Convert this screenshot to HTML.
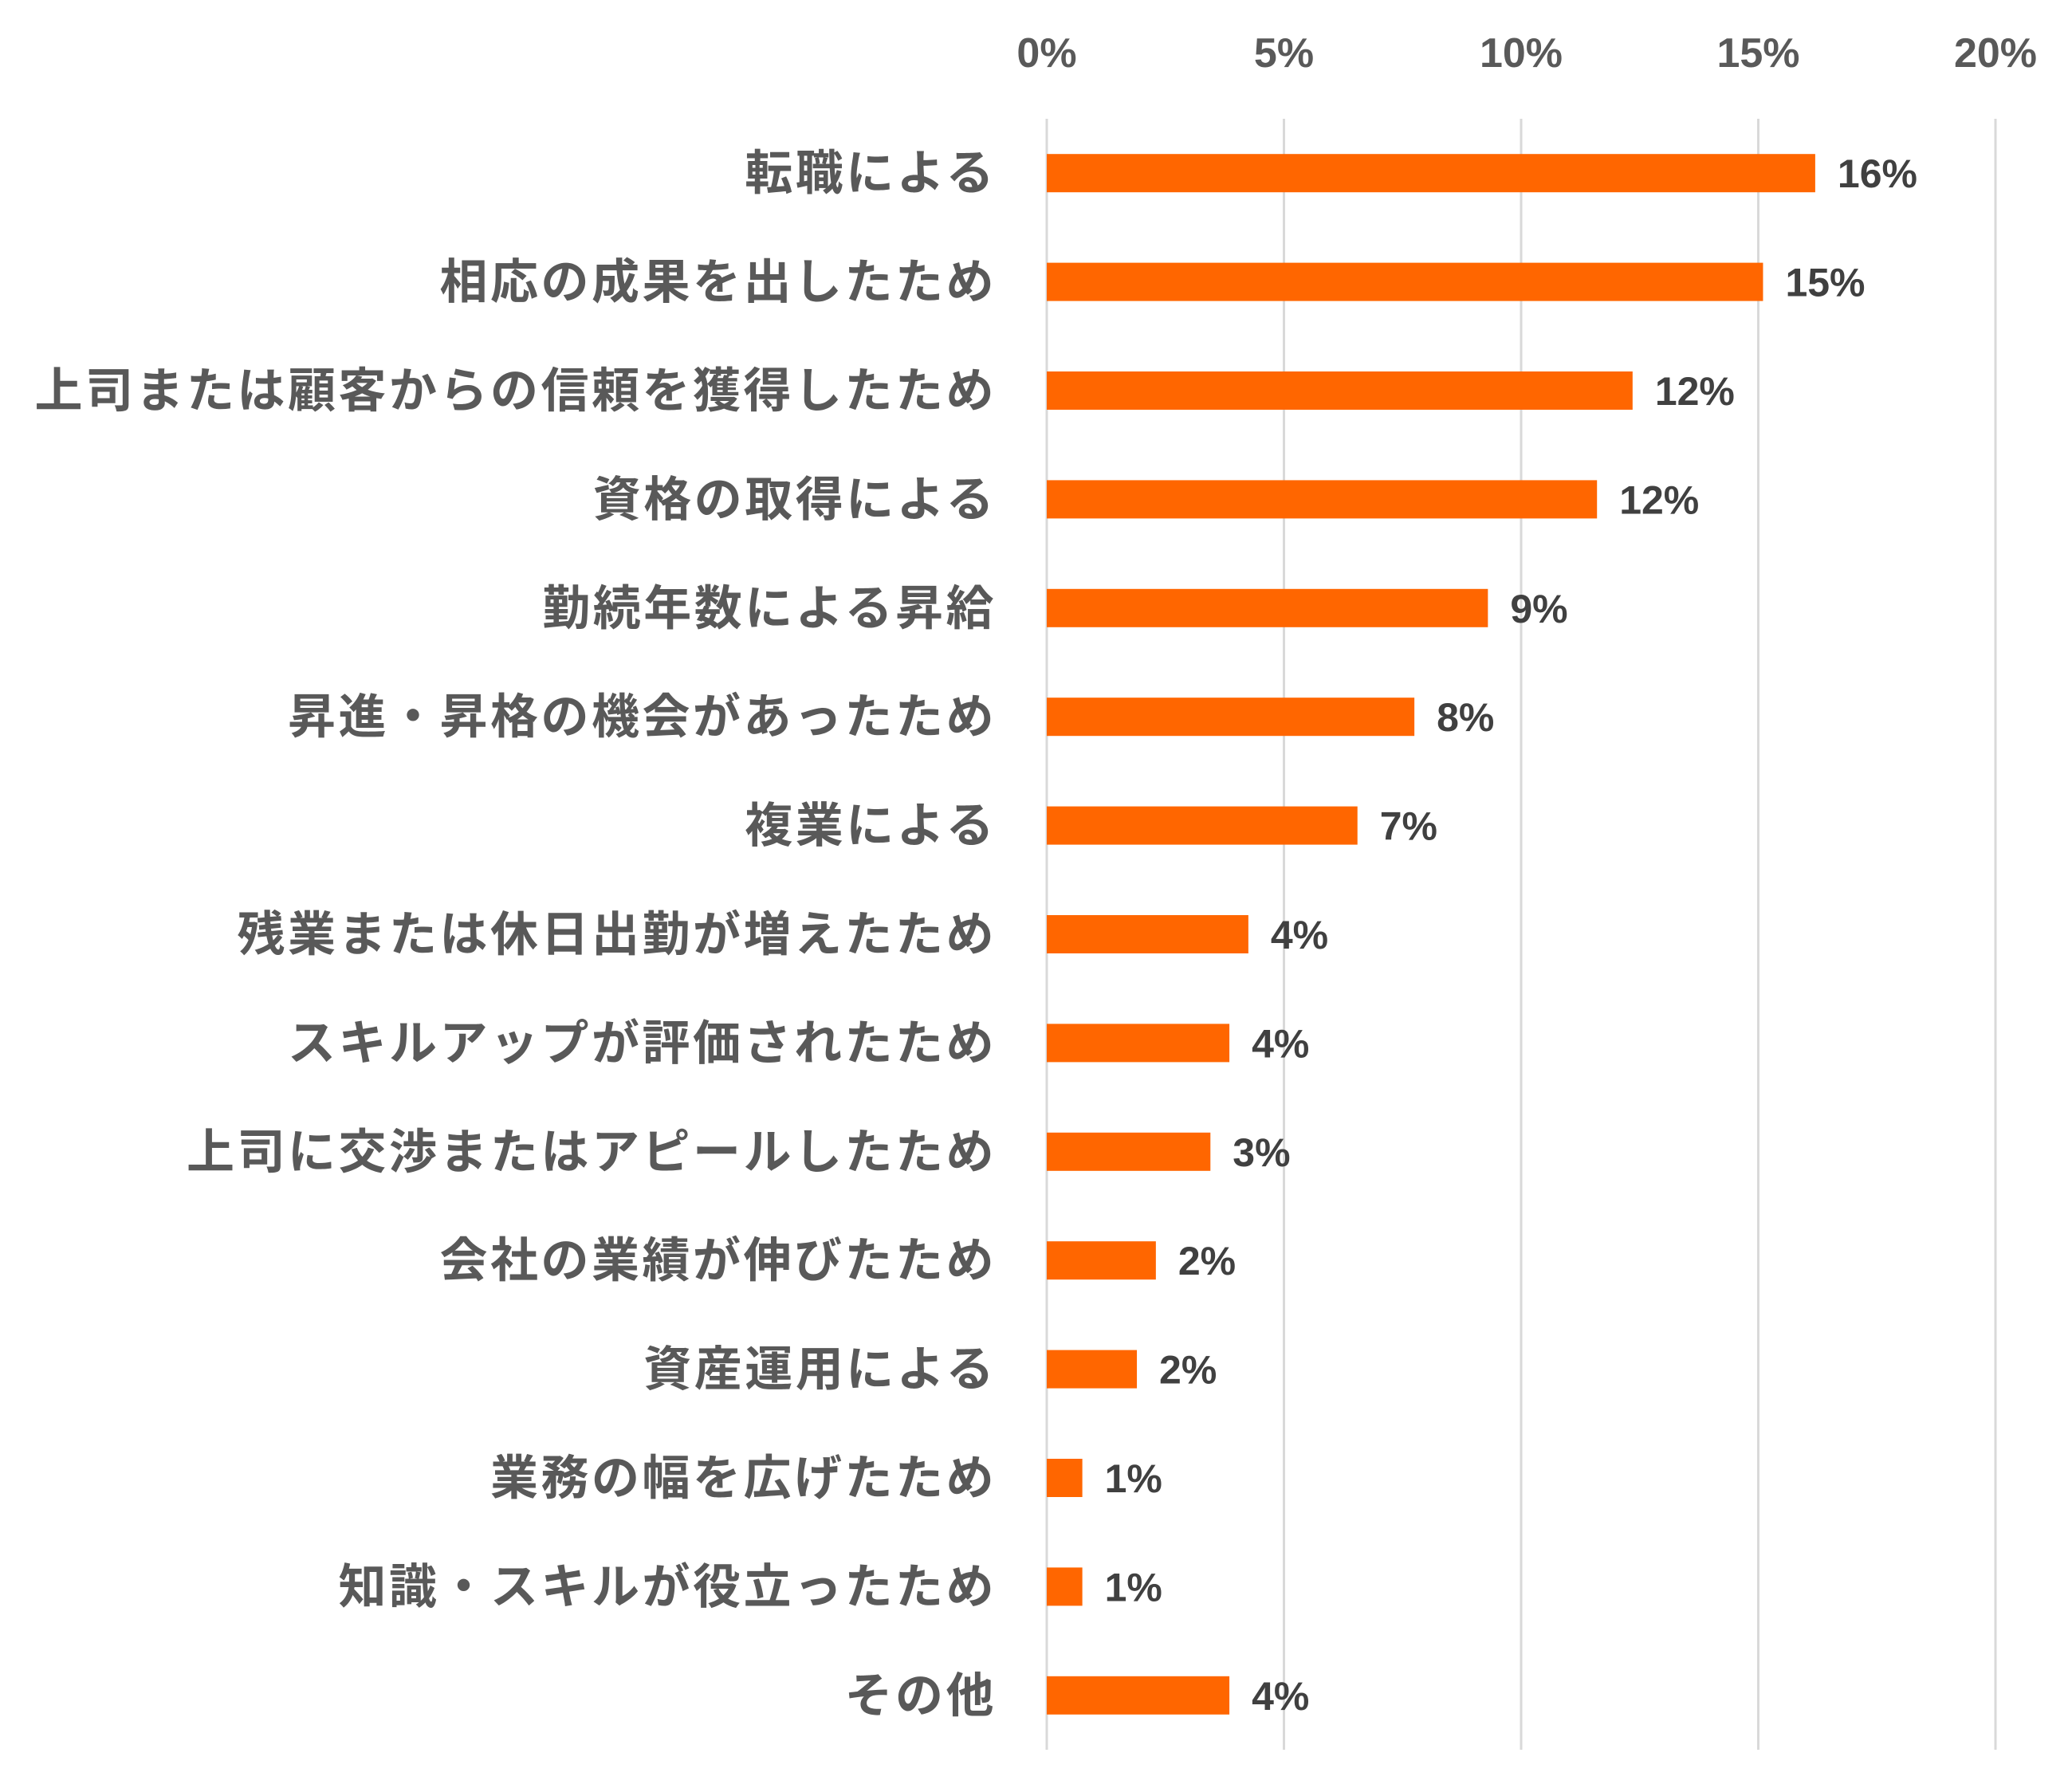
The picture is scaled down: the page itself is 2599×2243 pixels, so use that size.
<!DOCTYPE html>
<html><head><meta charset="utf-8"><style>
html,body{margin:0;padding:0;background:#fff;}
svg{display:block;}
</style></head><body>
<svg id="chart" width="2599" height="2243" viewBox="0 0 2599 2243" xmlns="http://www.w3.org/2000/svg">
<rect width="2599" height="2243" fill="#fff"/>
<g id="grid"></g>
<g id="ticks"></g>
<g id="cats"></g>
<g id="bars"></g>
<g id="vals"></g>
</svg>
<script>
const categories = ["転職による","相応の成果を出したため","上司または顧客からの信頼を獲得したため","資格の取得による","勤続年数による昇給","昇進・昇格の機会があったため","複業による","残業または休日出勤が増えたため","スキルアップが評価されたため","上司に交渉またはアピールしたため","会社の業績が伸びたため","資産運用による","業務の幅を広げたため","知識・スキルが役立ったため","その他"];
const values = [16.2,15.1,12.35,11.6,9.3,7.75,6.55,4.25,3.85,3.45,2.3,1.9,0.75,0.75,3.85];
const valueLabels = ["16%","15%","12%","12%","9%","8%","7%","4%","4%","3%","2%","2%","1%","1%","4%"];
const tickValues = [0,5,10,15,20];
const tickLabels = ["0%","5%","10%","15%","20%"];

const SVGNS="http://www.w3.org/2000/svg";
const plotX0=1313, plotX1=2503, xMax=20, plotTop=149, plotBottom=2195;
const bandStep=(plotBottom-plotTop)/categories.length, barH=48;
function xs(v){return plotX0+(v/xMax)*(plotX1-plotX0);}
function yc(i){return plotTop+bandStep*(i+0.5);}
function mk(tag,attrs,parent,text){const e=document.createElementNS(SVGNS,tag);for(const k in attrs)e.setAttribute(k,attrs[k]);if(text!==undefined)e.textContent=text;parent.appendChild(e);return e;}
const fontStack='"Liberation Sans","Noto Sans CJK JP",sans-serif';
const gGrid=document.getElementById('grid'),gTicks=document.getElementById('ticks'),gCats=document.getElementById('cats'),gBars=document.getElementById('bars'),gVals=document.getElementById('vals');
tickValues.forEach(function(t,i){
  const l=mk('line',{x1:xs(t),x2:xs(t),y1:plotTop,y2:plotBottom,stroke:'#d9d9d9','stroke-width':3},gGrid);
  
  
  const tx=mk('text',{x:xs(t),y:84,'text-anchor':'middle','font-family':fontStack,'font-weight':'bold','font-size':52,fill:'#595959'},gTicks,tickLabels[i]);
  
  
});
categories.forEach(function(c,i){
  const y=yc(i);
  const t=mk('text',{x:1250,y:y+21,'text-anchor':'end','font-family':fontStack,'font-weight':'bold','font-size':60,'letter-spacing':'3.5',fill:'#595959'},gCats,c);
  
  
  const b=mk('rect',{x:plotX0,y:y-barH/2,width:xs(values[i])-plotX0,height:barH,fill:'#ff6600'},gBars);
  
  
  const v=mk('text',{x:xs(values[i])+28,y:y+18,'font-family':fontStack,'font-weight':'bold','font-size':50,fill:'#404040'},gVals,valueLabels[i]);
  
  
});
</script>
</body></html>
